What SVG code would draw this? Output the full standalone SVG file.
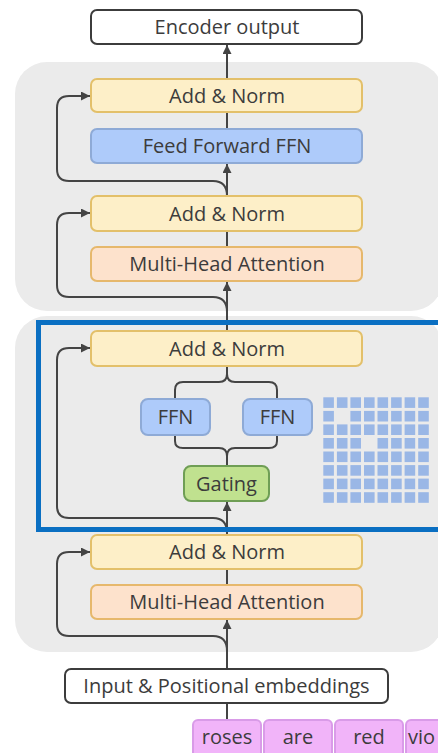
<svg xmlns="http://www.w3.org/2000/svg" width="438" height="753" viewBox="0 0 438 753">
<defs>
<marker id="ah" viewBox="0 0 10 10" refX="10" refY="5" markerWidth="9" markerHeight="9" markerUnits="userSpaceOnUse" orient="auto">
<path d="M0,0 L10,5 L0,10 z" fill="#444"/>
</marker>
<style>
text{font-family:"Open Sans",Roboto,"Liberation Sans",sans-serif;font-size:20px;font-weight:500;fill:#3c3c3c;text-anchor:middle}
.panel{fill:#ebebeb}
.an{fill:#fdefc8;stroke:#e3c06a;stroke-width:2}
.mha{fill:#fde2cc;stroke:#e6b86c;stroke-width:2}
.ffn{fill:#aecbfa;stroke:#8eaad6;stroke-width:2}
.gate{fill:#c0e18f;stroke:#6f9e55;stroke-width:2}
.wb{fill:#fff;stroke:#3c3c3c;stroke-width:2}
.tok{fill:#f1b4f9;stroke:#d99be8;stroke-width:2}
.ln{fill:none;stroke:#444;stroke-width:2}
.arr{fill:none;stroke:#444;stroke-width:2;marker-end:url(#ah)}
.sq{fill:#9ab7e6}
</style>
</defs>
<rect class="panel" x="15" y="62" width="428" height="249" rx="32"/>
<rect class="panel" x="15" y="316" width="428" height="336" rx="32"/>

<g id="connectors">
<path class="arr" d="M227,79 V45"/>
<path class="ln" d="M227,129 V112"/>
<path class="arr" d="M227,196 V164"/>
<path class="arr" d="M227,196 Q227,181 213,181 H69 Q57,181 57,169 V108 Q57,96 69,96 H90"/>
<path class="ln" d="M227,247 V231"/>
<path class="arr" d="M227,331 V282"/>
<path class="arr" d="M227,312 Q227,297 213,297 H69 Q57,297 57,285 V225 Q57,213 69,213 H90"/>
<path class="ln" d="M227,366 V374 Q227,382 219,382 H183 Q175,382 175,390 V399"/>
<path class="ln" d="M227,374 Q227,382 235,382 H269 Q277,382 277,390 V399"/>
<path class="ln" d="M175,435 V441 Q175,448 183,448 H219 Q227,448 227,456 V466"/>
<path class="ln" d="M277,435 V441 Q277,448 269,448 H235 Q227,448 227,456"/>
<path class="arr" d="M227,535 V502"/>
<path class="arr" d="M227,533 Q227,518 213,518 H69 Q57,518 57,506 V360 Q57,348 69,348 H90"/>
<path class="ln" d="M227,585 V569"/>
<path class="arr" d="M227,669 V620"/>
<path class="arr" d="M227,651 Q227,636 213,636 H69 Q57,636 57,624 V564 Q57,552 69,552 H90"/>
<path class="ln" d="M227,720 V703"/>
</g>

<g id="encoder-output"><rect class="wb" x="91" y="10" width="271" height="34" rx="6"/><text x="227" y="34">Encoder output</text></g>
<g id="addnorm1"><rect class="an" x="91" y="79" width="271" height="33" rx="6"/><text x="227" y="102.5">Add &amp; Norm</text></g>
<g id="ffn-main"><rect class="ffn" x="91" y="129" width="271" height="34" rx="6"/><text x="227" y="153">Feed Forward FFN</text></g>
<g id="addnorm2"><rect class="an" x="91" y="196" width="271" height="35" rx="6"/><text x="227" y="220.5">Add &amp; Norm</text></g>
<g id="mha1"><rect class="mha" x="91" y="247" width="271" height="34" rx="6"/><text x="227" y="271">Multi-Head Attention</text></g>

<g id="moe-box"><rect x="38.5" y="322.5" width="420" height="207" fill="none" stroke="#0a6fc2" stroke-width="5"/></g>
<g id="addnorm3"><rect class="an" x="91" y="331" width="271" height="35" rx="6"/><text x="227" y="355.5">Add &amp; Norm</text></g>
<g id="ffn-left"><rect class="ffn" x="141" y="399" width="69" height="36" rx="7"/><text x="175.5" y="424">FFN</text></g>
<g id="ffn-right"><rect class="ffn" x="243" y="399" width="69" height="36" rx="7"/><text x="277.5" y="424">FFN</text></g>
<g id="gating"><rect class="gate" x="184" y="466" width="85" height="35" rx="7"/><text x="226.5" y="490.5">Gating</text></g>
<g id="expert-grid">
<rect class="sq" x="323.3" y="397.3" width="10.6" height="10.6"/><rect class="sq" x="336.9" y="397.3" width="10.6" height="10.6"/><rect class="sq" x="350.4" y="397.3" width="10.6" height="10.6"/><rect class="sq" x="364" y="397.3" width="10.6" height="10.6"/><rect class="sq" x="377.5" y="397.3" width="10.6" height="10.6"/><rect class="sq" x="391.1" y="397.3" width="10.6" height="10.6"/><rect class="sq" x="404.6" y="397.3" width="10.6" height="10.6"/><rect class="sq" x="418.2" y="397.3" width="10.6" height="10.6"/>
<rect class="sq" x="323.3" y="410.9" width="10.6" height="10.6"/><rect class="sq" x="350.4" y="410.9" width="10.6" height="10.6"/><rect class="sq" x="364" y="410.9" width="10.6" height="10.6"/><rect class="sq" x="377.5" y="410.9" width="10.6" height="10.6"/><rect class="sq" x="391.1" y="410.9" width="10.6" height="10.6"/><rect class="sq" x="404.6" y="410.9" width="10.6" height="10.6"/><rect class="sq" x="418.2" y="410.9" width="10.6" height="10.6"/>
<rect class="sq" x="323.3" y="424.4" width="10.6" height="10.6"/><rect class="sq" x="336.9" y="424.4" width="10.6" height="10.6"/><rect class="sq" x="350.4" y="424.4" width="10.6" height="10.6"/><rect class="sq" x="364" y="424.4" width="10.6" height="10.6"/><rect class="sq" x="377.5" y="424.4" width="10.6" height="10.6"/><rect class="sq" x="391.1" y="424.4" width="10.6" height="10.6"/><rect class="sq" x="404.6" y="424.4" width="10.6" height="10.6"/><rect class="sq" x="418.2" y="424.4" width="10.6" height="10.6"/>
<rect class="sq" x="323.3" y="438" width="10.6" height="10.6"/><rect class="sq" x="336.9" y="438" width="10.6" height="10.6"/><rect class="sq" x="350.4" y="438" width="10.6" height="10.6"/><rect class="sq" x="377.5" y="438" width="10.6" height="10.6"/><rect class="sq" x="391.1" y="438" width="10.6" height="10.6"/><rect class="sq" x="404.6" y="438" width="10.6" height="10.6"/><rect class="sq" x="418.2" y="438" width="10.6" height="10.6"/>
<rect class="sq" x="323.3" y="451.5" width="10.6" height="10.6"/><rect class="sq" x="336.9" y="451.5" width="10.6" height="10.6"/><rect class="sq" x="350.4" y="451.5" width="10.6" height="10.6"/><rect class="sq" x="364" y="451.5" width="10.6" height="10.6"/><rect class="sq" x="377.5" y="451.5" width="10.6" height="10.6"/><rect class="sq" x="391.1" y="451.5" width="10.6" height="10.6"/><rect class="sq" x="404.6" y="451.5" width="10.6" height="10.6"/><rect class="sq" x="418.2" y="451.5" width="10.6" height="10.6"/>
<rect class="sq" x="323.3" y="465.1" width="10.6" height="10.6"/><rect class="sq" x="336.9" y="465.1" width="10.6" height="10.6"/><rect class="sq" x="350.4" y="465.1" width="10.6" height="10.6"/><rect class="sq" x="364" y="465.1" width="10.6" height="10.6"/><rect class="sq" x="377.5" y="465.1" width="10.6" height="10.6"/><rect class="sq" x="391.1" y="465.1" width="10.6" height="10.6"/><rect class="sq" x="404.6" y="465.1" width="10.6" height="10.6"/><rect class="sq" x="418.2" y="465.1" width="10.6" height="10.6"/>
<rect class="sq" x="323.3" y="478.6" width="10.6" height="10.6"/><rect class="sq" x="336.9" y="478.6" width="10.6" height="10.6"/><rect class="sq" x="350.4" y="478.6" width="10.6" height="10.6"/><rect class="sq" x="364" y="478.6" width="10.6" height="10.6"/><rect class="sq" x="377.5" y="478.6" width="10.6" height="10.6"/><rect class="sq" x="391.1" y="478.6" width="10.6" height="10.6"/><rect class="sq" x="404.6" y="478.6" width="10.6" height="10.6"/><rect class="sq" x="418.2" y="478.6" width="10.6" height="10.6"/>
<rect class="sq" x="323.3" y="492.2" width="10.6" height="10.6"/><rect class="sq" x="336.9" y="492.2" width="10.6" height="10.6"/><rect class="sq" x="350.4" y="492.2" width="10.6" height="10.6"/><rect class="sq" x="364" y="492.2" width="10.6" height="10.6"/><rect class="sq" x="377.5" y="492.2" width="10.6" height="10.6"/><rect class="sq" x="391.1" y="492.2" width="10.6" height="10.6"/><rect class="sq" x="404.6" y="492.2" width="10.6" height="10.6"/><rect class="sq" x="418.2" y="492.2" width="10.6" height="10.6"/>
</g>

<g id="addnorm4"><rect class="an" x="91" y="535" width="271" height="34" rx="6"/><text x="227" y="559">Add &amp; Norm</text></g>
<g id="mha2"><rect class="mha" x="91" y="585" width="271" height="34" rx="6"/><text x="227" y="609">Multi-Head Attention</text></g>
<g id="input-embeddings"><rect class="wb" x="65" y="669" width="323" height="34" rx="6"/><text x="226.5" y="693">Input &amp; Positional embeddings</text></g>
<g id="tok-roses"><rect class="tok" x="193" y="720" width="68" height="40" rx="5"/><text x="227" y="744">roses</text></g>
<g id="tok-are"><rect class="tok" x="264" y="720" width="68" height="40" rx="5"/><text x="298" y="744">are</text></g>
<g id="tok-red"><rect class="tok" x="335" y="720" width="68" height="40" rx="5"/><text x="369" y="744">red</text></g>
<g id="tok-vio"><rect class="tok" x="406" y="720" width="68" height="40" rx="5"/><text x="408" y="744" style="text-anchor:start">vio</text></g>
</svg>
